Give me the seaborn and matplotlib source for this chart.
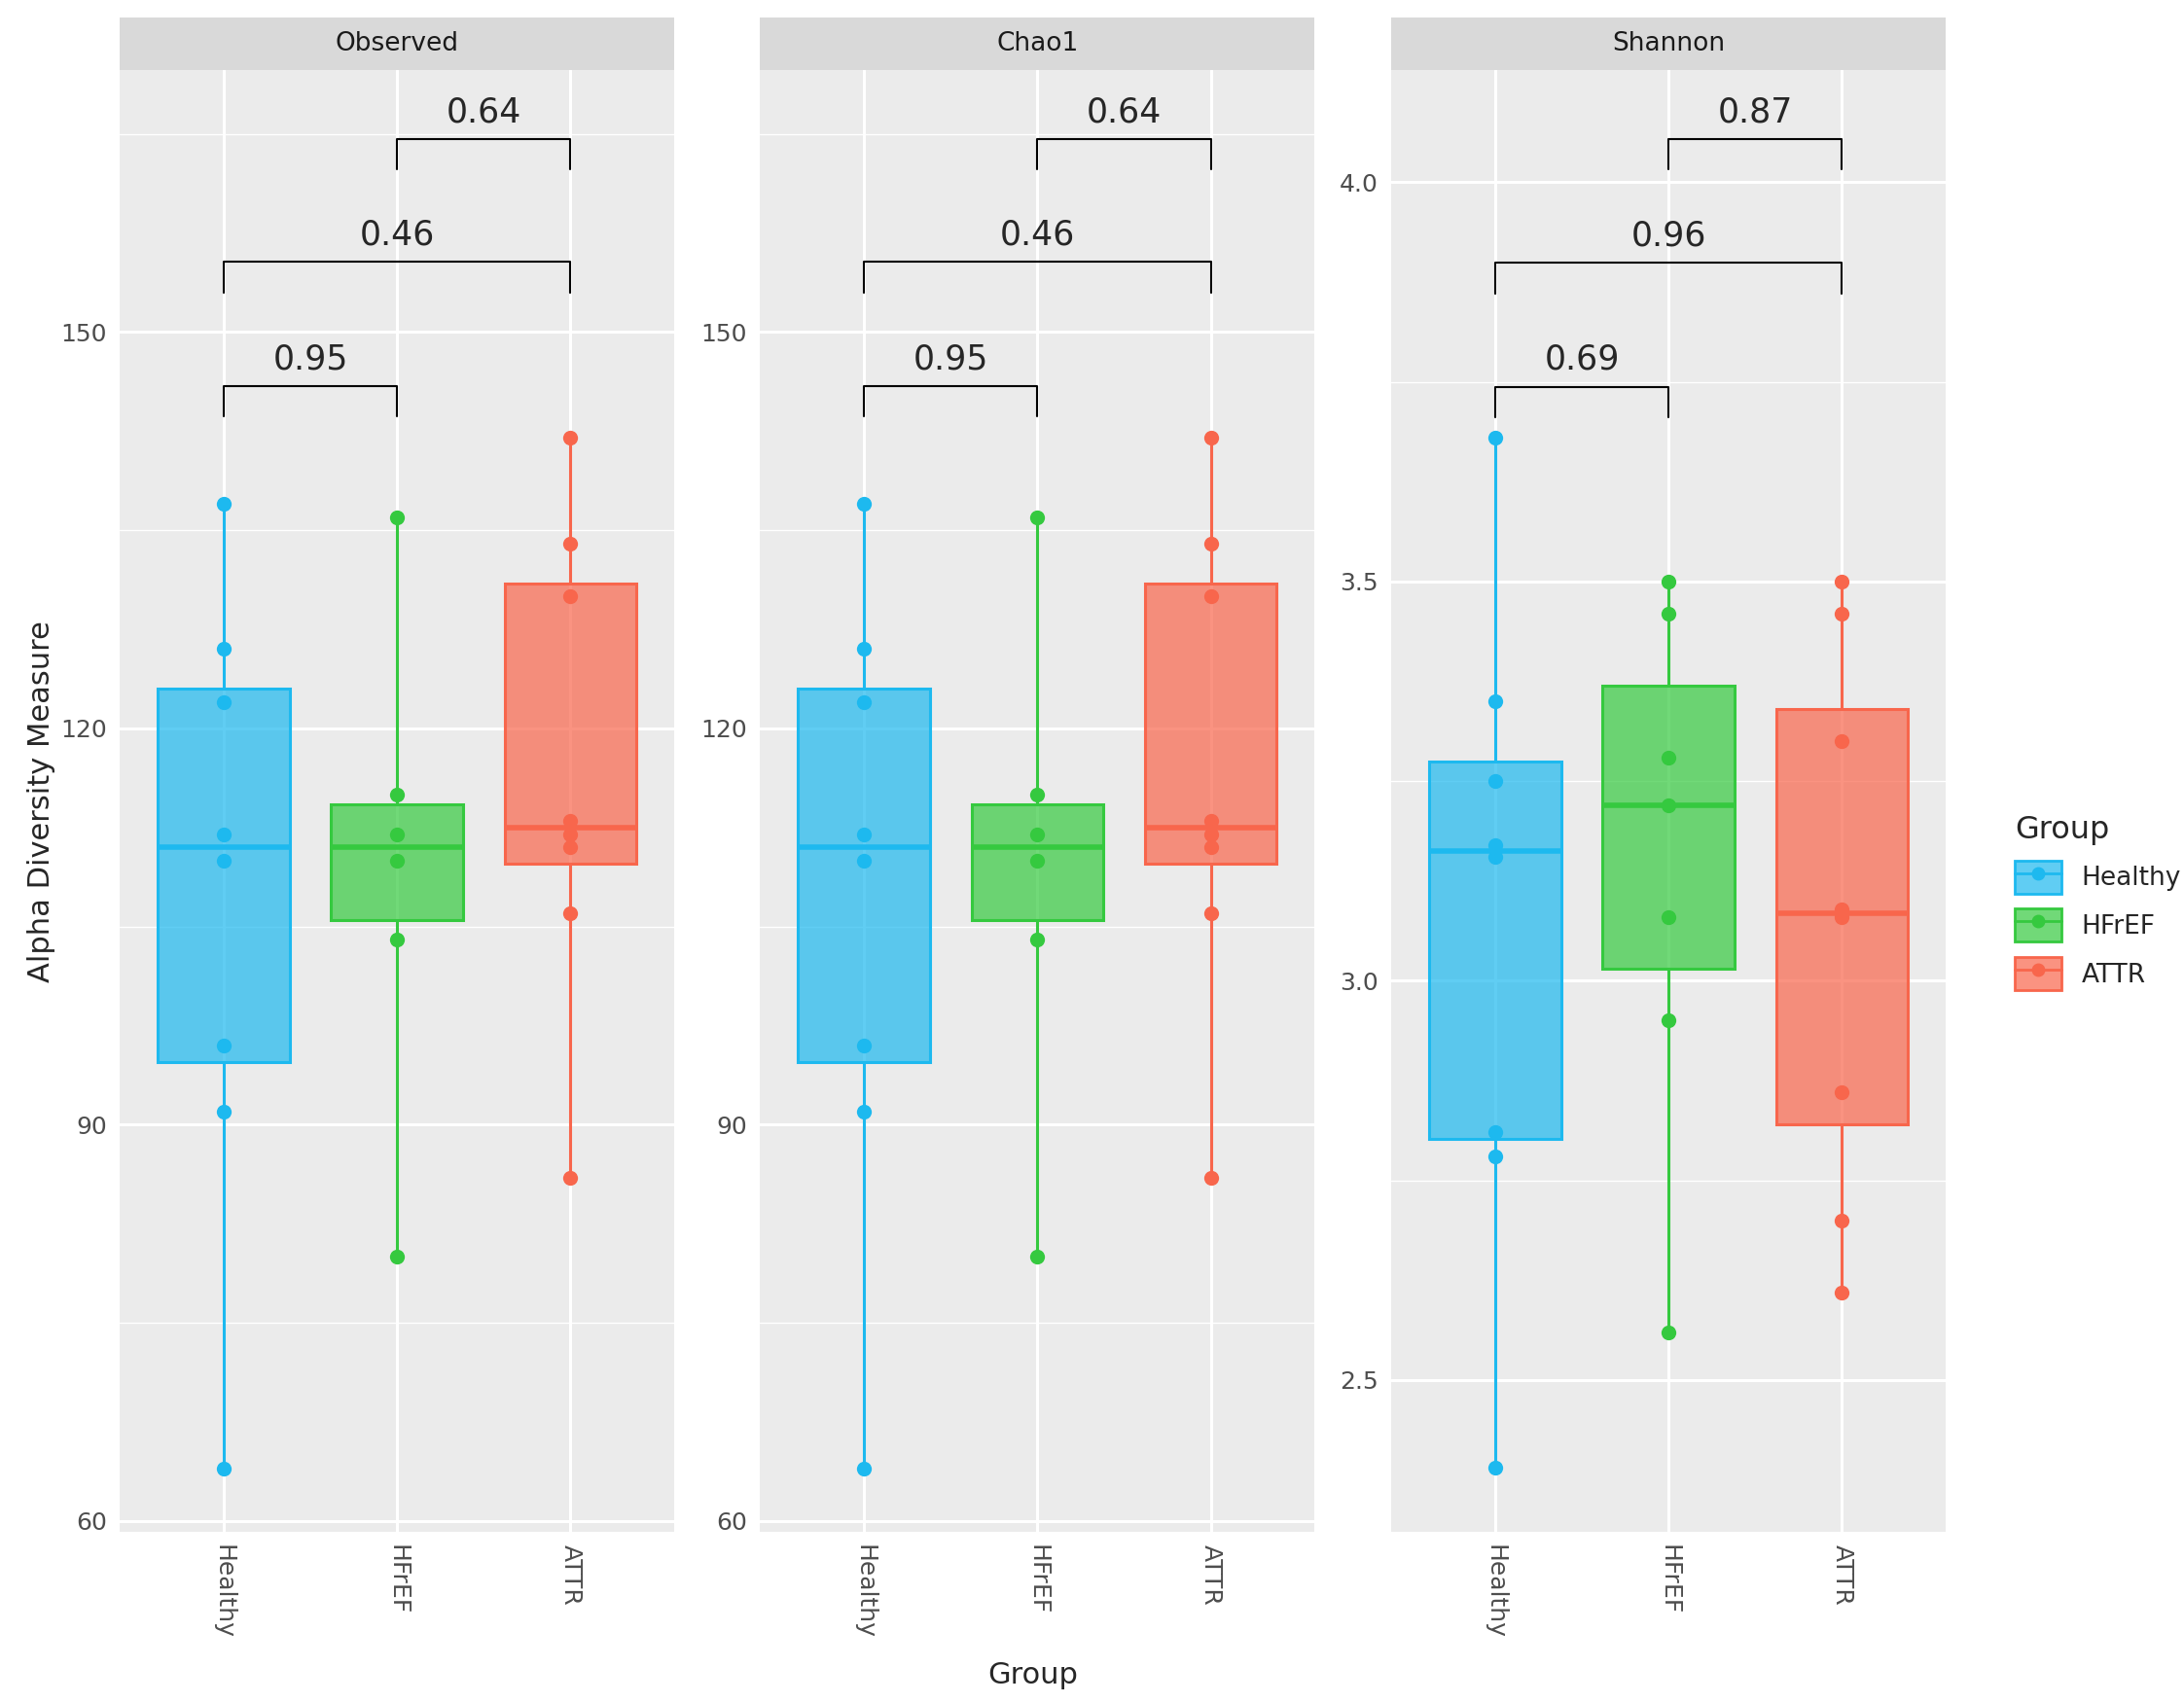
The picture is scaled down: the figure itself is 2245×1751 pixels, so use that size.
import numpy as np
import pandas as pd
import seaborn as sns
import matplotlib.pyplot as plt
from matplotlib.colors import to_rgba
from matplotlib.patches import Patch
from matplotlib.lines import Line2D

groups = ["Healthy", "HFrEF", "ATTR"]
colors = ["#1DB9EF", "#35C93F", "#F8664C"]

observed_healthy = [137, 126, 122, 112, 110, 96, 91, 64]
observed_hfref = [136, 115, 112, 110, 104, 80]
observed_attr = [142, 134, 130, 113, 112, 111, 106, 86]
shannon_healthy = [3.68, 3.35, 3.25, 3.17, 3.155, 2.81, 2.78, 2.39]
shannon_hfref = [3.50, 3.46, 3.28, 3.22, 3.08, 2.95, 2.56]
shannon_attr = [3.50, 3.46, 3.30, 3.09, 3.08, 2.86, 2.70, 2.61]

pvals = {"Observed": ["0.95", "0.46", "0.64"],
         "Chao1": ["0.95", "0.46", "0.64"],
         "Shannon": ["0.69", "0.96", "0.87"]}


def make_df(a, b, c):
    rows = [(g, v) for g, vals in zip(groups, [a, b, c]) for v in vals]
    return pd.DataFrame(rows, columns=["Group", "value"])


data = {"Observed": make_df(observed_healthy, observed_hfref, observed_attr),
        "Chao1": make_df(observed_healthy, observed_hfref, observed_attr),
        "Shannon": make_df(shannon_healthy, shannon_hfref, shannon_attr)}

sns.set_style("darkgrid", {"axes.facecolor": "#EBEBEB", "grid.color": "white"})
plt.rcParams['font.family'] = ['DejaVu Sans']

fig = plt.figure(figsize=(22.45, 17.51), dpi=100)
lefts = [0.0548, 0.348, 0.637]
W, B, H = 0.254, 0.1006, 0.858

for k, (name, df) in enumerate(data.items()):
    ax = fig.add_axes([lefts[k], B, W, H])
    for g, c in zip(groups, colors):
        sub = df[df.Group == g]
        sns.boxplot(data=sub, x="Group", y="value", order=groups, color=c, linecolor=c,
                    whis=np.inf, showcaps=False, width=0.76, linewidth=2.2, ax=ax,
                    medianprops={"linewidth": 4})
        sns.stripplot(data=sub, x="Group", y="value", order=groups, color=c, jitter=False,
                      size=11, ax=ax)
    for p, c in zip(ax.patches, colors):
        p.set_facecolor(to_rgba(c, 0.7))
    vmin = df.value.min()
    if name == "Shannon":
        ax.set_ylim(2.31, 4.14)
        ax.set_yticks([2.5, 3.0, 3.5, 4.0])
        minor = [2.75, 3.25, 3.75]
        ys, tick = [3.744, 3.899, 4.054], 0.038
    else:
        ax.set_ylim(59.2, 169.8)
        ax.set_yticks([60, 90, 120, 150])
        minor = [75, 105, 135, 165]
        ys, tick = [145.9, 155.3, 164.6], 2.3
    for m in minor:
        ax.axhline(m, color="white", lw=1, zorder=0)
    pairs = [(0, 1), (0, 2), (1, 2)]
    for (a, b), y, pv in zip(pairs, ys, pvals[name]):
        ax.plot([a, a, b, b], [y - tick, y, y, y - tick], color="black", lw=1.5)
        ax.text((a + b) / 2, y + tick * 0.35, pv, ha="center", va="bottom", fontsize=25)
    ax.grid(True, color="white", lw=2.2)
    ax.set_axisbelow(True)
    ax.set_xlim(-0.6, 2.6)
    ax.set_xlabel("")
    ax.set_ylabel("Alpha Diversity Measure" if k == 0 else "", fontsize=22)
    ax.tick_params(axis="x", rotation=-90, labelsize=18, colors="#4D4D4D", length=6)
    ax.tick_params(axis="y", labelsize=18, colors="#4D4D4D", length=6)
    for s in ax.spines.values():
        s.set_visible(False)
    # strip
    sax = fig.add_axes([lefts[k], B + H, W, 0.031])
    sax.set_facecolor("#D9D9D9")
    sax.set_xticks([])
    sax.set_yticks([])
    for s in sax.spines.values():
        s.set_visible(False)
    sax.text(0.5, 0.5, name, ha="center", va="center", fontsize=19, color="#1A1A1A",
             transform=sax.transAxes)

fig.text(0.473, 0.008, "Group", ha="center", va="bottom", fontsize=22)

handles = [(Patch(facecolor=to_rgba(c, 0.7), edgecolor=c, lw=2),
            Line2D([], [], color=c, marker="o", markersize=9, lw=2)) for c in colors]
fig.legend(handles, groups, title="Group", loc="center left", bbox_to_anchor=(0.912, 0.47),
           frameon=False, fontsize=19, title_fontsize=23, handlelength=1.8, handleheight=1.6,
           labelspacing=0.6, alignment="left")

fig.savefig("out.png", dpi=100)
